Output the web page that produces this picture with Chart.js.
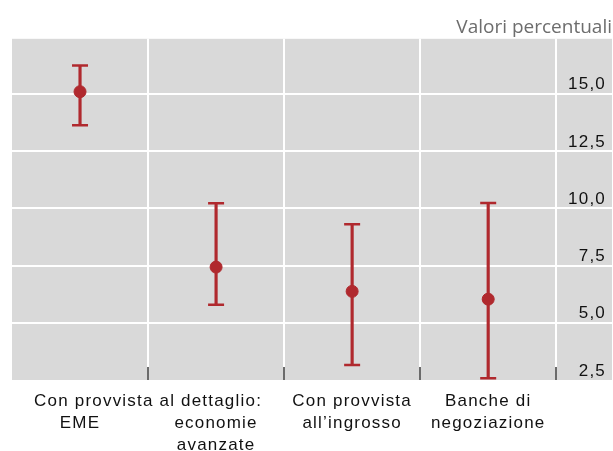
<!DOCTYPE html>
<html>
<head>
<meta charset="utf-8">
<script src="https://cdn.jsdelivr.net/npm/chart.js@4"></script>
<style>
  body { margin: 0; background: #fff; }
  #wrap { width: 613px; height: 451px; }
</style>
</head>
<body>
<div id="wrap"><canvas id="ranges" width="613" height="451"></canvas></div>
<script>
// bank groups, split into label lines
var categories = [['EME'], ['economie', 'avanzate'], ['Con provvista', 'all’ingrosso'], ['Banche di', 'negoziazione']];
// heading shared by the first two groups
var groupLabel = 'Con provvista al dettaglio:';
var groupMembers = [0, 1];

// central estimate and range, percent
var estimates   = [15.09, 7.43, 6.37, 6.03];
var lowerBounds = [13.63, 5.79, 3.16, 2.58];
var upperBounds = [16.23, 10.22, 9.30, 10.23];

var yTicks = [2.5, 5, 7.5, 10, 12.5, 15];

var red = '#b0292e';
var fontFamily = "'Liberation Sans', Arial, sans-serif";
var tickSpacing = '1.2px';

function xOf(i){ return i + 0.5; }
function tickValue(c){ return c.tick ? c.tick.value : null; }

var centres = estimates.map(function(v, i){ return {x: xOf(i), y: v}; });
var whiskers = estimates.map(function(v, i){ return {x: xOf(i), y: [lowerBounds[i], upperBounds[i]]}; });
var caps = [];
estimates.forEach(function(v, i){
    caps.push({x: xOf(i), y: lowerBounds[i]});
    caps.push({x: xOf(i), y: upperBounds[i]});
});

// x ticks: group centres carry the labels, integers carry the separators
var xTicks = [];
categories.forEach(function(c, i){ xTicks.push(xOf(i)); xTicks.push(i + 1); });

// grey plot area; tick labels (z 1, drawn after the datasets) get wider letter spacing than the title
var plotBackground = {
    id: 'plotBackground',
    beforeUpdate: function(chart){ chart.ctx.letterSpacing = tickSpacing; },
    beforeDraw: function(chart){
        var a = chart.chartArea, ctx = chart.ctx;
        ctx.letterSpacing = '0px';
        ctx.save();
        ctx.fillStyle = '#d9d9d9';
        ctx.fillRect(a.left, a.top, a.right - a.left, a.bottom - a.top);
        ctx.restore();
    },
    afterDatasetsDraw: function(chart){ chart.ctx.letterSpacing = tickSpacing; }
};

var ctx = document.getElementById('ranges').getContext('2d');
var myChart = new Chart(ctx, {
    data: {
        datasets: [{
            type: 'scatter',
            data: centres,
            backgroundColor: red,
            borderColor: red,
            pointRadius: 6,
            order: 0
        }, {
            type: 'scatter',
            data: caps,
            pointStyle: 'line',
            pointRadius: 8,
            borderColor: red,
            borderWidth: 2.5,
            order: 1
        }, {
            type: 'bar',
            data: whiskers,
            backgroundColor: red,
            barThickness: 2.5,
            grouped: false,
            order: 2
        }]
    },
    options: {
        responsive: false,
        animation: false,
        devicePixelRatio: 1,
        layout: { autoPadding: false, padding: { left: 12, right: 1, top: 0, bottom: 0 } },
        scales: {
            x: {
                type: 'linear',
                min: 0,
                max: 4.41,
                offset: false,
                afterBuildTicks: function(scale){
                    scale.ticks = xTicks.map(function(v){ return {value: v}; });
                },
                afterFit: function(scale){
                    scale.height = 71;
                    scale.paddingLeft = 0;
                    scale.paddingRight = 0;
                },
                border: { display: false },
                grid: {
                    offset: false,
                    color: function(c){ return Number.isInteger(tickValue(c)) ? '#ffffff' : 'transparent'; },
                    lineWidth: 2,
                    drawTicks: true,
                    tickLength: -13,
                    tickWidth: 1.5,
                    tickColor: function(c){ return Number.isInteger(tickValue(c)) ? '#3a3a3a' : 'transparent'; }
                },
                ticks: {
                    z: 1,
                    autoSkip: false,
                    maxRotation: 0,
                    padding: 23,
                    color: '#111',
                    font: { family: fontFamily, size: 17, lineHeight: '22px' },
                    callback: function(value){
                        if (value === 1) return groupLabel;
                        if (Number.isInteger(value)) return '';
                        var i = Math.floor(value);
                        var lines = categories[i];
                        return groupMembers.indexOf(i) >= 0 ? [''].concat(lines) : lines;
                    }
                }
            },
            y: {
                type: 'linear',
                position: 'right',
                min: 2.5,
                max: 17.4,
                afterBuildTicks: function(scale){
                    scale.ticks = yTicks.map(function(v){ return {value: v}; });
                },
                afterFit: function(scale){
                    scale.width = 0;
                    scale.paddingTop = 0;
                    scale.paddingBottom = 0;
                },
                border: { display: false },
                grid: {
                    color: function(c){ return tickValue(c) === 2.5 ? 'transparent' : '#ffffff'; },
                    lineWidth: 2,
                    drawTicks: false
                },
                ticks: {
                    z: 1,
                    mirror: true,
                    padding: -6,
                    labelOffset: -9,
                    color: '#111',
                    font: { family: fontFamily, size: 17 },
                    callback: function(value){ return value.toFixed(1).replace('.', ','); }
                }
            }
        },
        plugins: {
            legend: { display: false },
            tooltip: { enabled: false },
            title: {
                display: true,
                text: 'Valori percentuali',
                align: 'end',
                color: '#6d6d6d',
                font: { family: "'Open Sans', sans-serif", size: 19, weight: 'normal' },
                padding: { top: 16, bottom: 0 }
            }
        }
    },
    plugins: [plotBackground]
});
</script>
</body>
</html>
